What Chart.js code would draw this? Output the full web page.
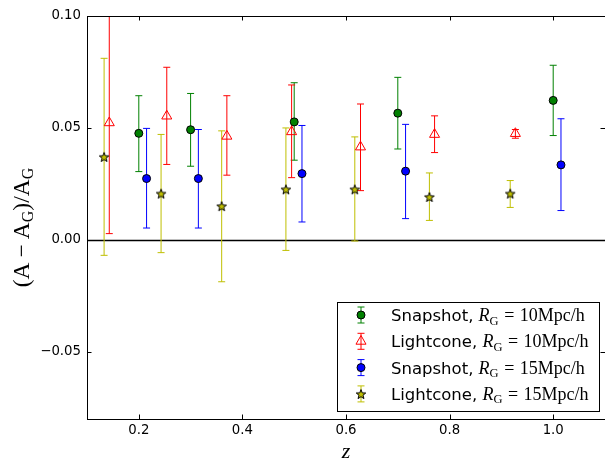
<!DOCTYPE html>
<html>
<head>
<meta charset="utf-8">
<script src="https://cdn.jsdelivr.net/npm/chart.js@4.4.1/dist/chart.umd.min.js"></script>
<style>
  html, body { margin: 0; padding: 0; background: #fff; }
  #wrap { width: 605px; height: 461px; position: relative; }
</style>
</head>
<body>
<div id="wrap"><canvas id="ampChart"></canvas></div>
<script>
// (A - A_G)/A_G per redshift, with lower/upper 1-sigma bounds
const snap10Z   = [0.2, 0.3, 0.5, 0.7, 1.0];
const snap10Val = [0.0476, 0.0492, 0.0527, 0.0566, 0.0623];
const snap10Lo  = [0.0305, 0.0329, 0.0356, 0.0406, 0.0466];
const snap10Hi  = [0.0644, 0.0654, 0.0702, 0.0726, 0.0780];

const light10Z   = [0.143, 0.254, 0.370, 0.495, 0.628, 0.771, 0.927];
const light10Val = [0.0523, 0.0553, 0.0463, 0.0483, 0.0415, 0.0471, 0.0475];
const light10Lo  = [0.0028, 0.0337, 0.0289, 0.0278, 0.0220, 0.0390, 0.0454];
const light10Hi  = [0.1020, 0.0771, 0.0644, 0.0692, 0.0607, 0.0554, 0.0493];

const snap15Z   = [0.215, 0.315, 0.515, 0.715, 1.015];
const snap15Val = [0.0274, 0.0274, 0.0296, 0.0307, 0.0335];
const snap15Lo  = [0.0053, 0.0053, 0.0080, 0.0095, 0.0131];
const snap15Hi  = [0.0498, 0.0493, 0.0511, 0.0516, 0.0541];

const light15Z   = [0.133, 0.243, 0.360, 0.484, 0.617, 0.761, 0.917];
const light15Val = [0.0371, 0.0207, 0.0151, 0.0226, 0.0226, 0.0192, 0.0207];
const light15Lo  = [-0.0069, -0.0057, -0.0187, -0.0047, -0.0005, 0.0087, 0.0145];
const light15Hi  = [0.0811, 0.0471, 0.0487, 0.0500, 0.0460, 0.0299, 0.0265];

const xTicks = [0.2, 0.4, 0.6, 0.8, 1.0];
const yTicks = [-0.05, 0.0, 0.05, 0.10];

const seriesNames = ['Snapshot', 'Lightcone', 'Snapshot', 'Lightcone'];
const smoothingScales = ['10Mpc/h', '10Mpc/h', '15Mpc/h', '15Mpc/h'];

const SANS = '"DejaVu Sans", sans-serif';
const SERIF = '"Liberation Serif", "DejaVu Serif", serif';

// filled five-point star, used as a point style
function makeStar(size, fill) {
    const c = document.createElement('canvas');
    c.width = c.height = size;
    const g = c.getContext('2d');
    const cx = size / 2, cy = size / 2 + 0.6;
    const R = size / 2 - 1, r = R * 0.42;
    g.beginPath();
    for (let i = 0; i < 10; i++) {
        const a = -Math.PI / 2 + i * Math.PI / 5;
        const rad = i % 2 ? r : R;
        g.lineTo(cx + rad * Math.cos(a), cy + rad * Math.sin(a));
    }
    g.closePath();
    g.fillStyle = fill;
    g.fill();
    g.lineWidth = 1;
    g.strokeStyle = '#000';
    g.stroke();
    return c;
}
const starIcon = makeStar(12, '#bfbf00');

function toPoints(zs, vals, lo, hi) {
    return zs.map((z, i) => ({ x: z, y: vals[i], lo: lo[i], hi: hi[i] }));
}

const datasets = [
    { data: toPoints(snap10Z, snap10Val, snap10Lo, snap10Hi), errorColor: '#008000',
      pointStyle: 'circle', pointRadius: 4, backgroundColor: '#008000', borderColor: '#000' },
    { data: toPoints(light10Z, light10Val, light10Lo, light10Hi), errorColor: '#ff0000',
      pointStyle: 'triangle', pointRadius: 5.8, backgroundColor: 'rgba(0,0,0,0)', borderColor: '#ff0000' },
    { data: toPoints(snap15Z, snap15Val, snap15Lo, snap15Hi), errorColor: '#0000ff',
      pointStyle: 'circle', pointRadius: 4, backgroundColor: '#0000ff', borderColor: '#000' },
    { data: toPoints(light15Z, light15Val, light15Lo, light15Hi), errorColor: '#bfbf00',
      pointStyle: starIcon, pointRadius: 6, backgroundColor: '#bfbf00', borderColor: '#000' }
];
datasets.forEach((ds, i) => {
    ds.label = seriesNames[i] + ', R_G = ' + smoothingScales[i];
    ds.borderWidth = 1;
    ds.showLine = false;
});

// draws a row of text pieces (mixed fonts, subscripts) starting at x
function runsWidth(ctx, runs) {
    let w = 0;
    runs.forEach(r => {
        if (r.gap) { w += r.gap; return; }
        ctx.font = r.font;
        w += ctx.measureText(r.text).width;
    });
    return w;
}
function drawRuns(ctx, runs, x, y) {
    runs.forEach(r => {
        if (r.gap) { x += r.gap; return; }
        ctx.font = r.font;
        ctx.fillText(r.text, x, y + (r.dy || 0));
        x += ctx.measureText(r.text).width;
    });
}

function drawMarker(ctx, ds, x, y) {
    if (ds.pointStyle === starIcon) {
        ctx.drawImage(starIcon, x - starIcon.width / 2, y - starIcon.height / 2);
        return;
    }
    const r = ds.pointRadius;
    ctx.beginPath();
    if (ds.pointStyle === 'circle') {
        ctx.arc(x, y, r, 0, Math.PI * 2);
    } else {
        let a = 0;
        ctx.moveTo(x + Math.sin(a) * r, y - Math.cos(a) * r);
        a += Math.PI * 2 / 3;
        ctx.lineTo(x + Math.sin(a) * r, y - Math.cos(a) * r);
        a += Math.PI * 2 / 3;
        ctx.lineTo(x + Math.sin(a) * r, y - Math.cos(a) * r);
        ctx.closePath();
    }
    ctx.fillStyle = ds.backgroundColor;
    ctx.fill();
    ctx.lineWidth = 1;
    ctx.strokeStyle = ds.borderColor;
    ctx.stroke();
}

// zero line and vertical error bars with caps, under the markers
const errorBars = {
    id: 'errorBars',
    beforeDatasetsDraw(chart) {
        const { ctx, chartArea: a, scales: { x, y } } = chart;
        ctx.save();
        ctx.beginPath();
        ctx.rect(a.left, a.top, a.right - a.left, a.bottom - a.top);
        ctx.clip();

        const y0 = Math.round(y.getPixelForValue(0)) + 0.5;
        ctx.strokeStyle = '#000';
        ctx.lineWidth = 1.3;
        ctx.beginPath();
        ctx.moveTo(a.left, y0);
        ctx.lineTo(a.right, y0);
        ctx.stroke();

        ctx.lineWidth = 1;
        chart.data.datasets.forEach(ds => {
            ctx.strokeStyle = ds.errorColor;
            ds.data.forEach(p => {
                const px = x.getPixelForValue(p.x);
                const top = y.getPixelForValue(p.hi);
                const bot = y.getPixelForValue(p.lo);
                ctx.beginPath();
                ctx.moveTo(px, top);
                ctx.lineTo(px, bot);
                ctx.moveTo(px - 3.5, top);
                ctx.lineTo(px + 3.5, top);
                ctx.moveTo(px - 3.5, bot);
                ctx.lineTo(px + 3.5, bot);
                ctx.stroke();
            });
        });
        ctx.restore();
    }
};

// axes frame with inward ticks on all four sides, plus axis titles
const frame = {
    id: 'frame',
    afterDatasetsDraw(chart) {
        const { ctx, chartArea: a, scales: { x, y } } = chart;
        ctx.save();
        ctx.strokeStyle = '#000';
        ctx.lineWidth = 1;
        ctx.strokeRect(a.left + 0.5, a.top + 0.5, a.right - a.left, a.bottom - a.top);
        ctx.beginPath();
        xTicks.forEach(v => {
            const px = Math.round(x.getPixelForValue(v)) + 0.5;
            ctx.moveTo(px, a.top); ctx.lineTo(px, a.top + 4.5);
            ctx.moveTo(px, a.bottom); ctx.lineTo(px, a.bottom - 4.5);
        });
        yTicks.forEach(v => {
            const py = Math.round(y.getPixelForValue(v)) + 0.5;
            ctx.moveTo(a.left, py); ctx.lineTo(a.left + 4.5, py);
            ctx.moveTo(a.right, py); ctx.lineTo(a.right - 4.5, py);
        });
        ctx.stroke();

        ctx.fillStyle = '#000';
        ctx.textBaseline = 'alphabetic';
        // y title: (A - A_G)/A_G
        const big = '23.5px ' + SERIF, sub = '16px ' + SERIF;
        const yRuns = [
            { text: '(A', font: big }, { gap: 5 }, { text: '\u2212', font: big }, { gap: 5 },
            { text: 'A', font: big }, { text: 'G', font: sub, dy: 4 },
            { text: ')/A', font: big }, { text: 'G', font: sub, dy: 4 }
        ];
        ctx.translate(29, (a.top + a.bottom) / 2 + 10);
        ctx.rotate(-Math.PI / 2);
        drawRuns(ctx, yRuns, -runsWidth(ctx, yRuns) / 2, 0);
        ctx.setTransform(1, 0, 0, 1, 0, 0);

        // x title
        ctx.font = 'italic 22px ' + SERIF;
        ctx.textAlign = 'center';
        ctx.fillText('z', (a.left + a.right) / 2, 458);
        ctx.restore();
    }
};

// legend box in the lower right, math-style labels
const mathLegend = {
    id: 'mathLegend',
    afterDraw(chart) {
        const { ctx, chartArea: a } = chart;
        const w = 262, h = 109;
        const bx = a.right - 6 - w, by = a.bottom - 8 - h;
        ctx.save();
        ctx.fillStyle = '#fff';
        ctx.fillRect(bx, by, w, h);
        ctx.strokeStyle = '#000';
        ctx.lineWidth = 1;
        ctx.strokeRect(Math.round(bx) + 0.5, Math.round(by) + 0.5, w, h);

        chart.data.datasets.forEach((ds, i) => {
            const cy = by + 13 + i * 26.3;
            const mx = bx + 24;
            ctx.strokeStyle = ds.errorColor;
            ctx.beginPath();
            ctx.moveTo(mx, cy - 8); ctx.lineTo(mx, cy + 8);
            ctx.moveTo(mx - 3.5, cy - 8); ctx.lineTo(mx + 3.5, cy - 8);
            ctx.moveTo(mx - 3.5, cy + 8); ctx.lineTo(mx + 3.5, cy + 8);
            ctx.stroke();
            drawMarker(ctx, ds, mx, cy);

            ctx.fillStyle = '#000';
            ctx.textBaseline = 'alphabetic';
            const runs = [
                { text: seriesNames[i] + ', ', font: '16.5px ' + SANS },
                { text: 'R', font: 'italic 18px ' + SERIF },
                { text: 'G', font: '12.5px ' + SERIF, dy: 3.5 },
                { gap: 5.5 }, { text: '=', font: '18px ' + SERIF }, { gap: 5.5 },
                { text: smoothingScales[i], font: '18px ' + SERIF }
            ];
            drawRuns(ctx, runs, bx + 54, cy + 6);
        });
        ctx.restore();
    }
};

const tickFont = { family: SANS, size: 13.3 };

new Chart(document.getElementById('ampChart'), {
    type: 'scatter',
    data: { datasets: datasets },
    options: {
        responsive: true,
        maintainAspectRatio: false,
        animation: false,
        layout: {
            autoPadding: false,
            padding: { top: 16, right: 0, left: 0, bottom: 0 }
        },
        plugins: {
            legend: { display: false },
            tooltip: { enabled: false }
        },
        scales: {
            x: {
                type: 'linear',
                min: 0.1,
                max: 1.1,
                afterBuildTicks: s => { s.ticks = xTicks.map(v => ({ value: v })); },
                afterFit: s => {
                    s.height = 42;
                    s.paddingLeft = 0;
                    s.paddingRight = 0;
                },
                grid: { display: false, drawTicks: false },
                border: { display: false },
                ticks: {
                    color: '#000', font: tickFont, padding: 4,
                    maxRotation: 0, autoSkip: false,
                    callback: v => v.toFixed(1)
                }
            },
            y: {
                type: 'linear',
                min: -0.08,
                max: 0.10,
                afterBuildTicks: s => { s.ticks = yTicks.map(v => ({ value: v })); },
                afterFit: s => {
                    s.width = 87;
                    s.paddingTop = 0;
                    s.paddingBottom = 0;
                },
                grid: { display: false, drawTicks: false },
                border: { display: false },
                ticks: {
                    color: '#000', font: tickFont, padding: 6, autoSkip: false,
                    callback: v => (v < 0 ? '\u2212' : '') + Math.abs(v).toFixed(2)
                }
            }
        }
    },
    plugins: [errorBars, frame, mathLegend]
});
</script>
</body>
</html>
